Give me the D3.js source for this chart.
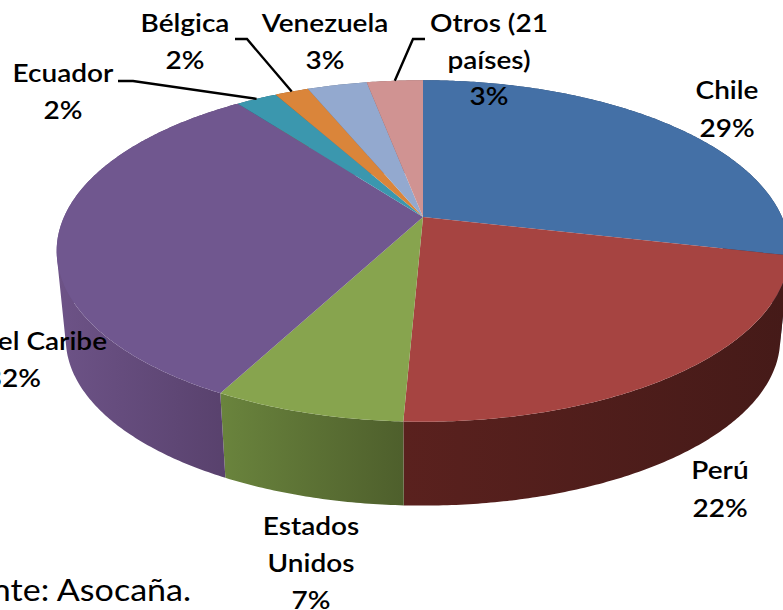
<!DOCTYPE html>
<html><head><meta charset="utf-8">
<script src="https://d3js.org/d3.v7.min.js"></script>
<style>html,body{margin:0;padding:0;background:#fff;overflow:hidden}svg{display:block}</style>
</head><body><svg id="c" width="783" height="610"></svg>
<script>
const categories = ["Chile","Perú","Estados Unidos","el Caribe","Ecuador","Bélgica","Venezuela","Otros (21 países)"];
const values = [28.6,22.1,7.0,32.1,2.2,1.8,3.2,3.0];
const topColors = ["#4470a6","#a64441","#87a44e","#70578f","#3b97ae","#da853a","#93a9cf","#d09392"];
const sideLeft = ["#2a4566","#5a211e","#6a843d","#6d5387","#24606e","#8a5320","#5c6c85","#825c5b"];
const sideRight = ["#23395a","#451a18","#4e5f2c","#57406b","#24606e","#8a5320","#5c6c85","#825c5b"];
const labelLines = [["Chile"],["Perú"],["Estados","Unidos"],["el Caribe"],["Ecuador"],["Bélgica"],["Venezuela"],["Otros (21","países)"]];
const labelAnchor = ["middle","middle","middle","end","middle","middle","middle","middle"];
const labelX = [727,720,311,107,63,185,325,489];
const labelY = [99,479,535,350,82,32,32,32];
const lineGap = [38,38,37,37,37,37,37,36.5];
const leaderKnee = [null,null,null,null,[[118,81],[133,81]],[[235,39],[247,39]],null,[[425,39],[413,39]]];
const sourceNote = "Fuente: Asocaña.";

const W=783,H=610, cx=423, cy=217, Rx=359, Ry=164, k=0.199, depth=89, shrink=0.975, stretch=1.12;
const svg=d3.select("#c");
const defs=svg.append("defs");
const pie=d3.pie().sort(null).value(d=>d);
const arcs=pie(values);

function proj(a,plane){
  const u=Math.sin(a), v=-Math.cos(a), w=1-k*v;
  const s=plane?shrink:1;
  return [cx+s*Rx*u/w, cy+s*Ry*v/w+(plane?depth:0)];
}
function arcPts(a0,a1,plane){
  const n=Math.max(2,Math.ceil((a1-a0)/0.01));
  return d3.range(n+1).map(i=>proj(a0+(a1-a0)*i/n,plane));
}
const line=d3.line();
const root=svg.append("g");

// side walls: union of same-orientation quads so the silhouette between planes is filled
const sides=root.append("g");
arcs.forEach((d,i)=>{
  const a=arcPts(d.startAngle,d.endAngle,0), b=arcPts(d.startAngle,d.endAngle,1);
  const xs=a.map(p=>p[0]);
  const id="g"+i;
  const g=defs.append("linearGradient").attr("id",id).attr("gradientUnits","userSpaceOnUse")
    .attr("x1",d3.min(xs)).attr("x2",d3.max(xs)).attr("y1",0).attr("y2",0);
  g.append("stop").attr("offset",0).attr("stop-color",sideLeft[i]);
  g.append("stop").attr("offset",1).attr("stop-color",sideRight[i]);
  let path="";
  for(let j=0;j<a.length-1;j++){
    let q=[a[j],a[j+1],b[j+1],b[j]];
    if(d3.polygonArea(q)<0) q=q.reverse();
    path+=line(q)+"Z";
  }
  sides.append("path").attr("d",path).attr("fill",`url(#${id})`).attr("fill-rule","nonzero");
});
// top faces
arcs.forEach((d,i)=>{
  const a=arcPts(d.startAngle,d.endAngle,0);
  root.append("path").attr("d",line([[cx,cy]].concat(a))+"Z").attr("fill",topColors[i]);
});
// leaders
arcs.forEach((d,i)=>{
  if(!leaderKnee[i])return;
  const end=proj((d.startAngle+d.endAngle)/2,0);
  root.append("path").attr("d",line(leaderKnee[i].concat([end]))).attr("fill","none")
    .attr("stroke","#000").attr("stroke-width",2.4);
});
// labels
const font="Lato, Carlito, sans-serif";
arcs.forEach((d,i)=>{
  const lines=labelLines[i].concat([Math.round(values[i])+"%"]);
  lines.forEach((t,j)=>{
    let x=labelX[i];
    if(i===3&&j===1) x=41;
    root.append("text").attr("transform",`translate(${x},${labelY[i]+j*lineGap[i]}) scale(${stretch},1)`)
      .attr("text-anchor",labelAnchor[i]).attr("font-family",font).attr("font-weight",600)
      .attr("font-size",25).attr("fill","#000").text(t);
  });
});
root.append("text").attr("transform",`translate(191,601) scale(1.135,1)`).attr("text-anchor","end")
  .attr("font-family",font).attr("font-size",30).attr("fill","#000").text(sourceNote);
</script></body></html>
